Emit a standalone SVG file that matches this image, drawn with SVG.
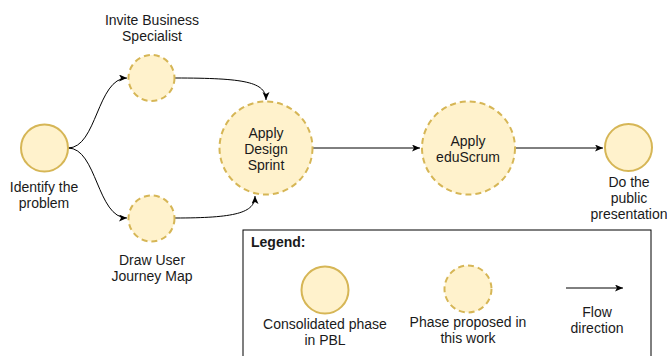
<svg xmlns="http://www.w3.org/2000/svg" width="667" height="356" viewBox="0 0 667 356">
<style>
text{font-family:"Liberation Sans",Arial,sans-serif;font-size:14px;fill:#1a1a1a;text-anchor:middle}
.solid{fill:#fff2cc;stroke:#d6b656;stroke-width:2}
.dash{fill:#fff2cc;stroke:#d6b656;stroke-width:2;stroke-dasharray:6 4}
.edge{fill:none;stroke:#000;stroke-width:1;marker-end:url(#arr)}
</style>
<defs>
<marker id="arr" markerWidth="10" markerHeight="8" refX="8" refY="3.5" orient="auto" markerUnits="userSpaceOnUse">
<path d="M0,0 L8,3.5 L0,7 L2,3.5 z" fill="#000"/>
</marker>
</defs>
<rect width="667" height="356" fill="#fff"/>
<g id="connectors">
<path class="edge" d="M68,148 C97,148 97,78 127,78"/>
<path class="edge" d="M68,148 C97,148 97,218 127,218"/>
<path class="edge" d="M175,78 C245,78 266,82 266,100"/>
<path class="edge" d="M175,218 C235,218 255,213 255,196"/>
<path class="edge" d="M313,148 L420,148"/>
<path class="edge" d="M516,148 L603,148"/>
</g>
<g id="identify">
<circle class="solid" cx="44.5" cy="148" r="23.5"/>
<text x="44" y="192">Identify the</text>
<text x="44" y="208">problem</text>
</g>
<g id="invite">
<circle class="dash" cx="151.5" cy="78" r="23"/>
<text x="152" y="25">Invite Business</text>
<text x="152" y="41">Specialist</text>
</g>
<g id="draw">
<circle class="dash" cx="151.5" cy="218.5" r="23"/>
<text x="152" y="265">Draw User</text>
<text x="152" y="281">Journey Map</text>
</g>
<g id="design">
<circle class="dash" cx="266" cy="148" r="46.5"/>
<text x="266" y="138">Apply</text>
<text x="266" y="154">Design</text>
<text x="266" y="170">Sprint</text>
</g>
<g id="eduscrum">
<circle class="dash" cx="468.5" cy="148" r="46.5"/>
<text x="468" y="146">Apply</text>
<text x="468" y="162">eduScrum</text>
</g>
<g id="present">
<circle class="solid" cx="628.5" cy="147.5" r="23.5"/>
<text x="629" y="187">Do the</text>
<text x="629" y="203">public</text>
<text x="629" y="219">presentation</text>
</g>
<g id="legend">
<rect x="243" y="230" width="408" height="140" fill="#fff" stroke="#000" stroke-width="1"/>
<text x="251" y="247" style="text-anchor:start;font-weight:bold">Legend:</text>
<circle class="solid" cx="325" cy="290" r="23.5"/>
<text x="325" y="329">Consolidated phase</text>
<text x="325" y="345">in PBL</text>
<circle class="dash" cx="468" cy="289" r="23.5"/>
<text x="468" y="327">Phase proposed in</text>
<text x="468" y="343">this work</text>
<path class="edge" d="M566,288 L623,288"/>
<text x="597" y="317">Flow</text>
<text x="597" y="333">direction</text>
</g>
</svg>
